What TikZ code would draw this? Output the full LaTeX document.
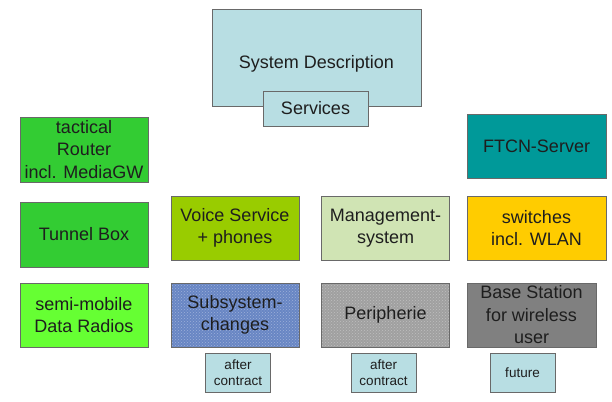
\documentclass[tikz,border=0pt]{standalone}
\usepackage{fontspec}
\setmainfont{Liberation Sans}
\usetikzlibrary{patterns}

\definecolor{sysblue}{RGB}{184,222,227}
\definecolor{framegray}{RGB}{105,105,105}
\definecolor{textgray}{RGB}{30,30,30}
\definecolor{routergreen}{RGB}{51,204,51}
\definecolor{radiogreen}{RGB}{102,255,51}
\definecolor{voicegreen}{RGB}{153,204,0}
\definecolor{mgmtgreen}{RGB}{208,228,180}
\definecolor{ftcnteal}{RGB}{0,153,153}
\definecolor{switchyellow}{RGB}{255,204,0}
\definecolor{denim}{RGB}{104,134,196}
\definecolor{granite}{RGB}{160,160,160}
\definecolor{stationgray}{RGB}{128,128,128}

\begin{document}
\begin{tikzpicture}[x=1pt, y=-1pt]
    \tikzstyle{block} = [draw=framegray, line width=0.8pt, align=center,
	inner sep=0pt, minimum width=128pt, minimum height=64pt, text=textgray,
	font=\fontsize{18}{22.5}\selectfont]
    \tikzstyle{note} = [block, fill=sysblue, minimum width=65pt,
	minimum height=39pt, font=\fontsize{13.5}{15.5}\selectfont]

	\useasboundingbox (0,0) rectangle (612,401);

	\begin{scope}
		\path
			% top
			node[block, fill=sysblue, minimum width=209pt, minimum height=97pt, text height=25pt] (sysdesc) at (316.5,57.5) {System Description}
			node[block, fill=sysblue, minimum width=105pt, minimum height=35pt] (services) at (315.5,108.5) {Services}

			% left column
			node[block, fill=routergreen, minimum height=65pt] (router) at (84,149.5) {tactical\\Router\\incl. MediaGW}
			node[block, fill=routergreen, minimum height=65pt] (tunnel) at (84,234.5) {Tunnel Box}
			node[block, fill=radiogreen] (radios) at (84,315) {semi-mobile\\Data Radios}

			% middle columns
			node[block, fill=voicegreen] (voice) at (235,228) {Voice Service\\+ phones}
			node[block, preaction={fill=denim}, pattern=crosshatch dots, pattern color=denim!65!white] (subsys) at (235,315) {Subsystem-\\changes}
			node[note] (after_1) at (238,372.5) {after\\contract}

			node[block, fill=mgmtgreen] (mgmt) at (385.5,228) {Management-\\system}
			node[block, preaction={fill=granite}, pattern=crosshatch dots, pattern color=gray!50!white] (periph) at (385.5,315) {Peripherie}
			node[note] (after_2) at (383.5,372.5) {after\\contract}

			% right column
			node[block, fill=ftcnteal, minimum width=139pt] (ftcn) at (536.5,146) {FTCN-Server}
			node[block, fill=switchyellow, minimum width=139pt] (switches) at (536.5,228) {switches\\incl. WLAN}
			node[block, fill=stationgray, minimum width=129pt] (station) at (531.5,315) {Base Station\\for wireless\\user}
			node[note] (future) at (522.5,372.5) {future}
		;
	\end{scope}
\end{tikzpicture}
\end{document}
